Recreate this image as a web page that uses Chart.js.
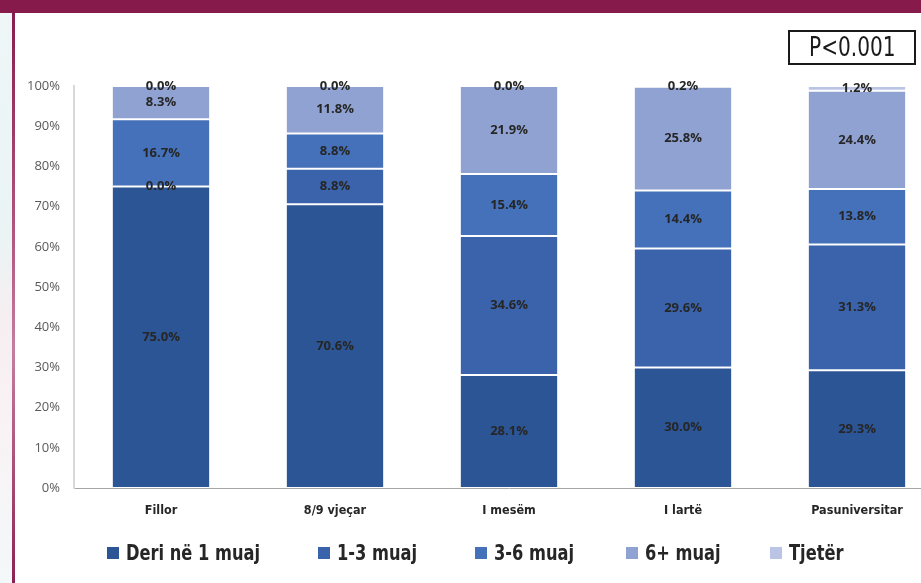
<!DOCTYPE html>
<html>
<head>
<meta charset="utf-8">
<script src="https://cdn.jsdelivr.net/npm/chart.js@4"></script>
<style>
  html, body { margin: 0; padding: 0; }
  body { width: 921px; height: 583px; overflow: hidden; position: relative; background: #fff; }
  .strip { position: absolute; left: 0; top: 0; width: 12px; height: 583px;
    background: linear-gradient(180deg, #eef6f8 0%, #eaf4f5 40%, #f6eef1 55%, #f9f2f4 70%, #f3f8f9 100%); }
  .vline { position: absolute; left: 12px; top: 0; width: 3px; height: 583px;
    background: linear-gradient(180deg, #861a4a 0%, #b0567f 40%, #c37f9f 60%, #8c2253 100%); }
  .topband { position: absolute; left: 0; top: 0; width: 921px; height: 13px; background: #861a4a; }
  .pbox { position: absolute; left: 788px; top: 30px; width: 124px; height: 31px;
    border: 2px solid #1a1a1a; font-family: "Liberation Sans Narrow", "DejaVu Sans Condensed", sans-serif;
    font-size: 26px; line-height: 31px; text-align: center; color: #1a1a1a; }
  .pbox span { display: inline-block; transform: scaleX(0.86); }
  #chartWrap { position: absolute; left: 0; top: 0; }
  .legend-item { position: absolute; top: 540px; height: 26px; display: flex; align-items: center; gap: 7px;
    white-space: nowrap; font-family: "Liberation Sans Narrow", "DejaVu Sans Condensed", sans-serif;
    font-weight: bold; font-size: 21px; color: #262626; }
  .legend-item .txt { display: inline-block; transform: scaleX(0.86); transform-origin: left center; }
  .legend-box { width: 12px; height: 12px; flex-shrink: 0; }
</style>
</head>
<body>
<div class="strip"></div>
<div class="vline"></div>
<div class="topband"></div>
<div id="chartWrap"><canvas id="eduChart" width="944" height="583"></canvas></div>
<div class="pbox"><span>P&lt;0.001</span></div>
<div id="legend"></div>

<script>
const categories = ['Fillor', '8/9 vjeçar', 'I mesëm', 'I lartë', 'Pasuniversitar'];
const seriesNames = ['Deri në 1 muaj', '1-3 muaj', '3-6 muaj', '6+ muaj', 'Tjetër'];
const upToOneMonth = [75.0, 70.6, 28.1, 30.0, 29.3];
const oneToThree = [0.0, 8.8, 34.6, 29.6, 31.3];
const threeToSix = [16.7, 8.8, 15.4, 14.4, 13.8];
const sixPlus = [8.3, 11.8, 21.9, 25.8, 24.4];
const otherValues = [0.0, 0.0, 0.0, 0.2, 1.2];
const yMax = 100;
const yStep = 10;

const seriesColors = ['#2c5596', '#3a63ab', '#4471b9', '#8fa2d2', '#bac5e5'];
const seriesValues = [upToOneMonth, oneToThree, threeToSix, sixPlus, otherValues];
// left edge of each legend entry, in px
const legendLeft = [107, 318, 475, 626, 770];

// value labels in the middle of each segment
const segmentLabels = {
  id: 'segmentLabels',
  afterDatasetsDraw(chart) {
    const ctx = chart.ctx;
    ctx.save();
    ctx.font = 'bold 13px "Open Sans", sans-serif';
    ctx.fillStyle = '#262626';
    ctx.textAlign = 'center';
    ctx.textBaseline = 'middle';
    chart.data.datasets.forEach((ds, i) => {
      const meta = chart.getDatasetMeta(i);
      meta.data.forEach((bar, j) => {
        const y = (bar.y + bar.base) / 2;
        ctx.fillText(ds.data[j].toFixed(1) + '%', bar.x, y);
      });
    });
    ctx.restore();
  }
};

function buildLegend() {
  const legend = document.getElementById('legend');
  seriesNames.forEach((name, i) => {
    const item = document.createElement('div');
    item.className = 'legend-item';
    item.style.left = legendLeft[i] + 'px';
    item.innerHTML = `<span class="legend-box" style="background:${seriesColors[i]}"></span><span class="txt">${name}</span>`;
    legend.appendChild(item);
  });
}

function drawChart() {
  const ctx = document.getElementById('eduChart').getContext('2d');
  new Chart(ctx, {
    type: 'bar',
    data: {
      labels: categories,
      datasets: seriesNames.map((name, i) => ({
        label: name,
        data: seriesValues[i],
        backgroundColor: seriesColors[i],
        borderColor: '#ffffff',
        borderWidth: 1,
        borderSkipped: false,
        categoryPercentage: 1,
        barPercentage: 0.565
      }))
    },
    options: {
      responsive: false,
      animation: false,
      devicePixelRatio: 1,
      layout: { padding: { top: 86, left: 0, right: 0, bottom: 0 } },
      plugins: {
        legend: { display: false },
        tooltip: { enabled: false }
      },
      scales: {
        x: {
          stacked: true,
          grid: { display: false, drawTicks: false },
          border: { display: true, color: '#a6a6a6', width: 1 },
          ticks: {
            padding: 15,
            color: '#262626',
            font: { family: '"Liberation Sans Narrow", "DejaVu Sans Condensed", sans-serif', size: 12.5, weight: 'bold' }
          },
          afterFit(scale) { scale.height = 95; }
        },
        y: {
          stacked: true,
          min: 0,
          max: yMax,
          grid: { display: false, drawTicks: false },
          border: { display: true, color: '#d9d9d9', width: 2 },
          ticks: {
            stepSize: yStep,
            padding: 14,
            color: '#595959',
            font: { family: '"Open Sans", sans-serif', size: 13 },
            callback: function(value) {
              return value + '%';
            }
          },
          afterFit(scale) { scale.width = 74; }
        }
      }
    },
    plugins: [segmentLabels]
  });
}

document.addEventListener('DOMContentLoaded', function() {
  buildLegend();
  drawChart();
});
</script>
</body>
</html>
